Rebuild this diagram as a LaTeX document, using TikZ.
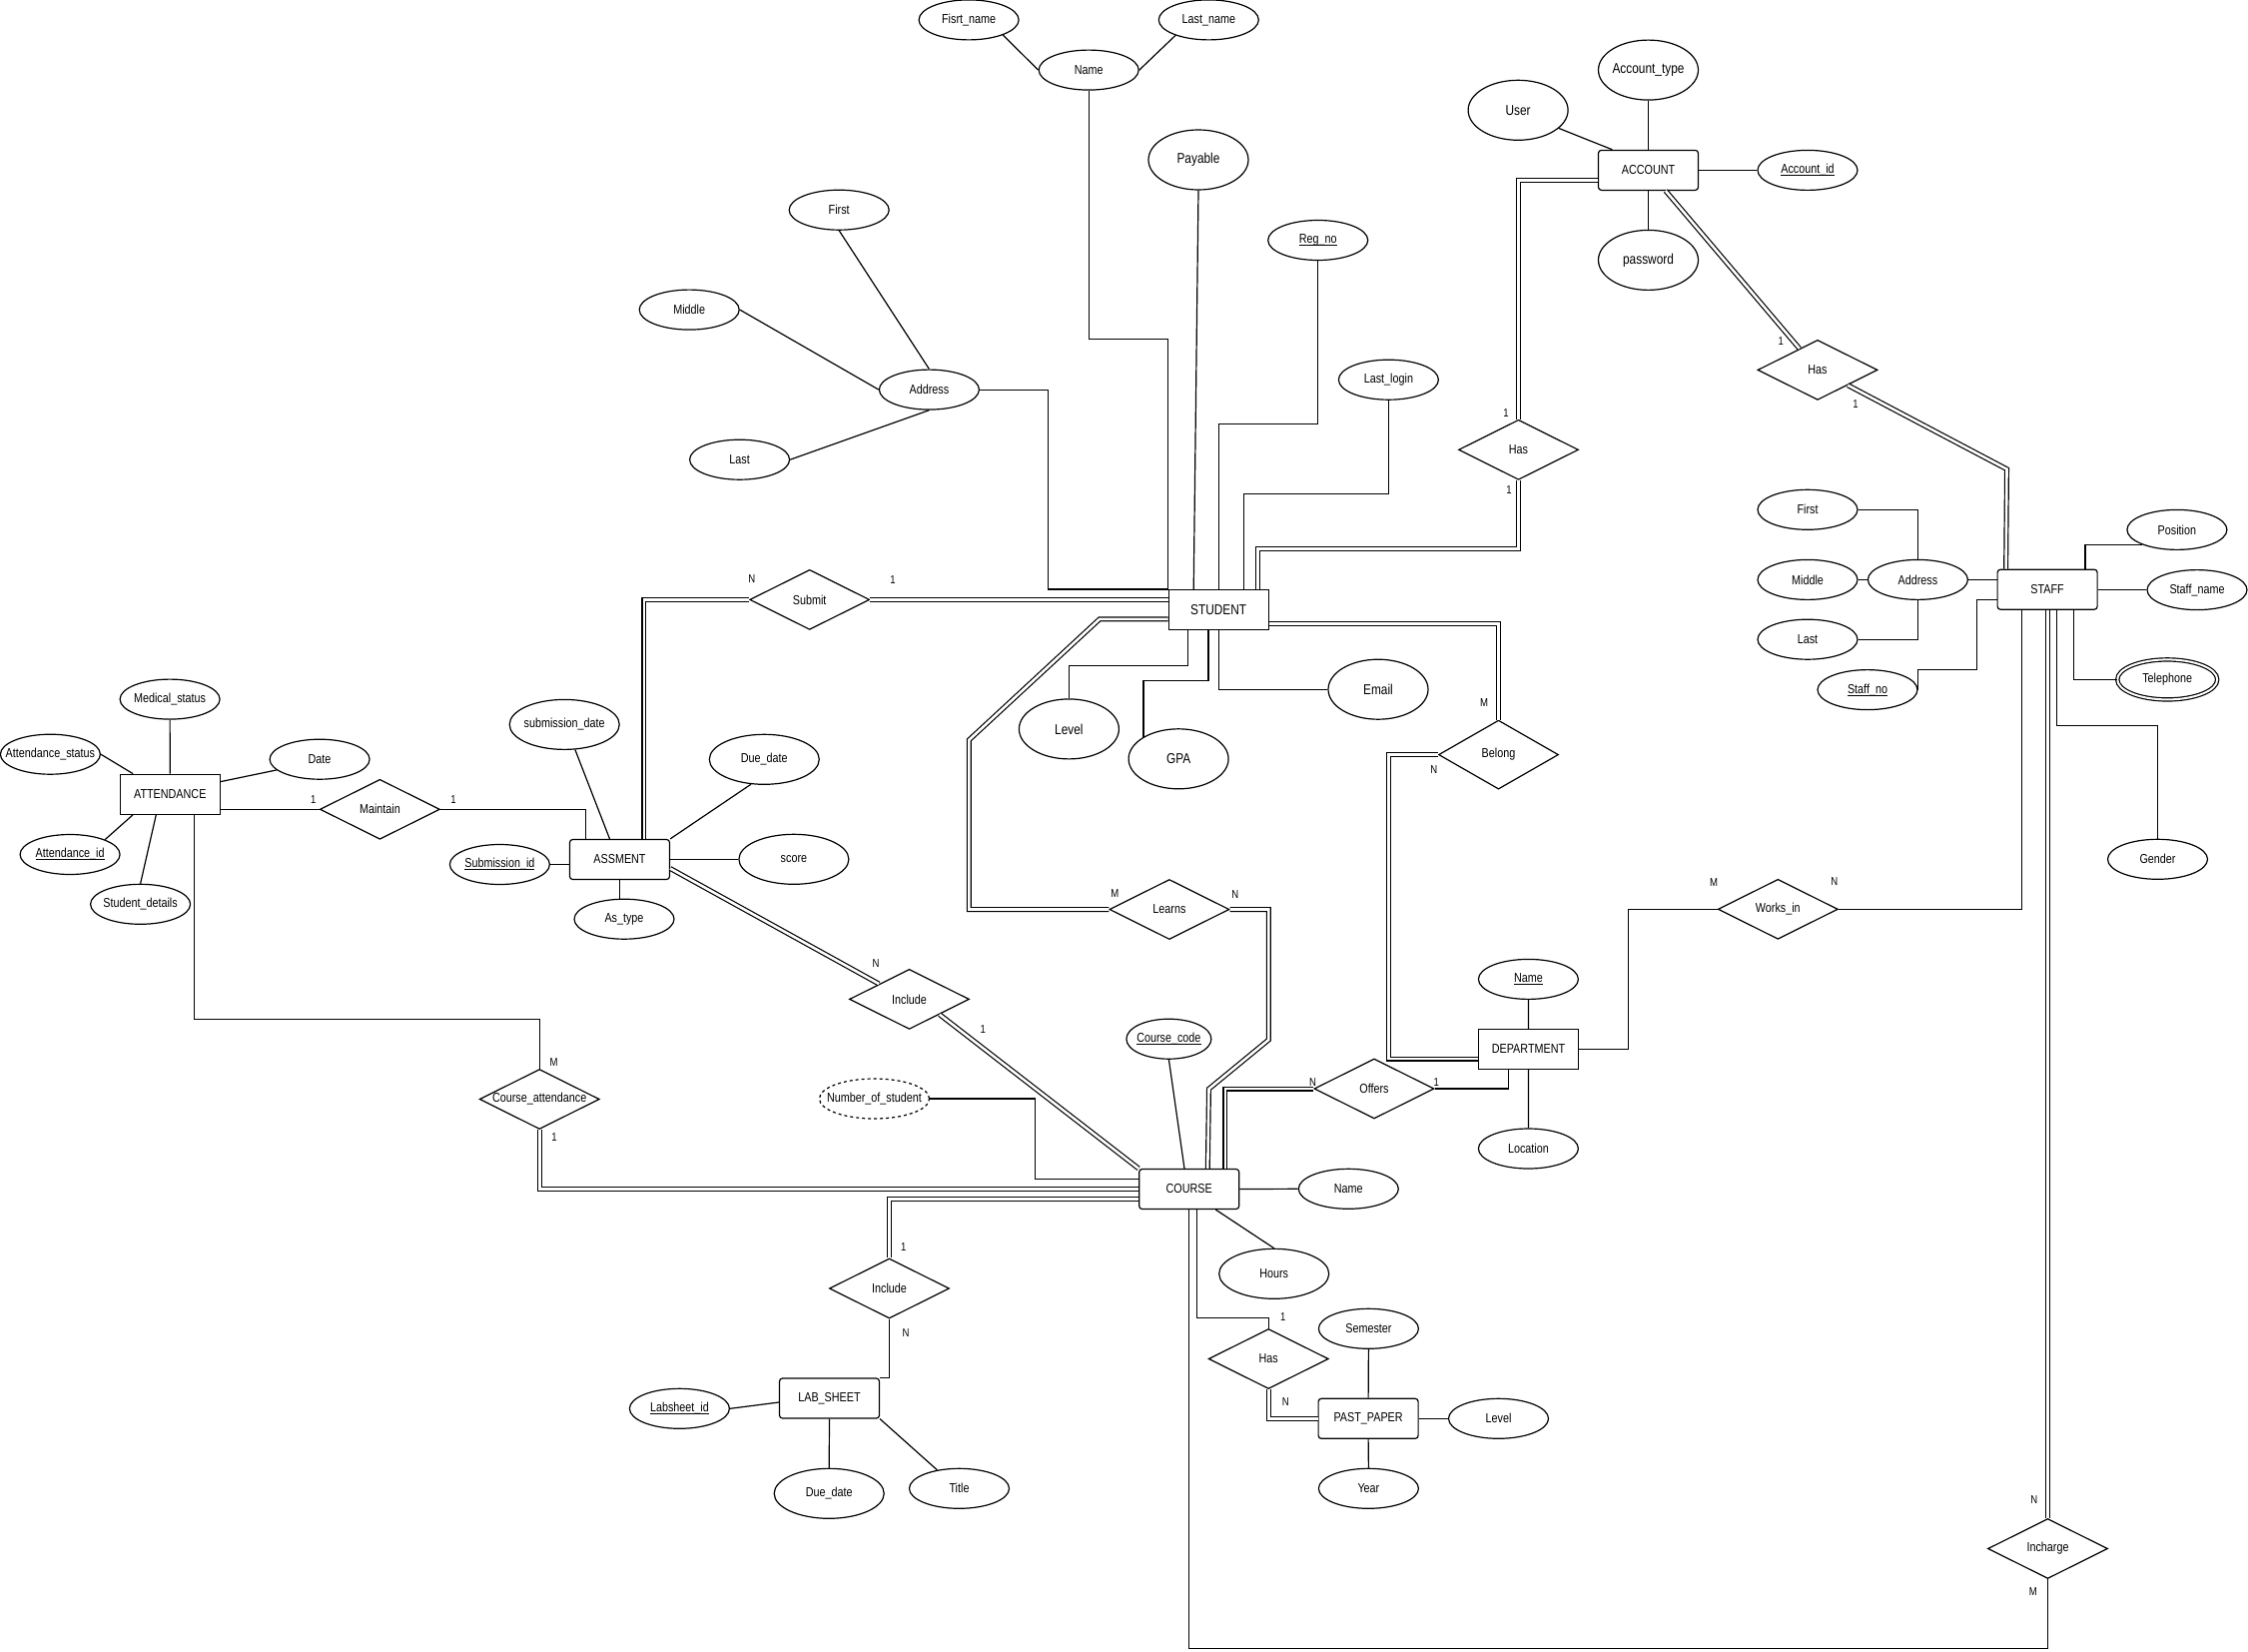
\documentclass[tikz,border=0pt]{standalone}
\usepackage{fontspec}
\setmainfont{Liberation Sans}[FakeStretch=0.83]
\usetikzlibrary{shapes.geometric,calc}
\newcommand{\zt}[1]{\makebox[0pt]{#1}}
\newcommand{\uln}[1]{\setbox0\hbox{#1}\rlap{\rule[-2.4pt]{\wd0}{0.9pt}}\box0}
\newcommand{\fsm}{\fontsize{13}{15}\selectfont}
\newcommand{\fbg}{\fontsize{14.3}{16}\selectfont}
\newcommand{\fcd}{\fontsize{11.5}{13}\selectfont}
\begin{document}
\begin{tikzpicture}[x=1pt,y=-1pt,line width=1.2pt,
  ent/.style={draw,rectangle,minimum width=100,minimum height=40,inner sep=0,font=\fsm},
  rent/.style={ent,rounded corners=3pt},
  attr/.style={draw,ellipse,minimum width=100,minimum height=40,inner sep=0,font=\fsm},
  bigattr/.style={attr,minimum height=60,font=\fbg},
  midattr/.style={attr,minimum width=110,minimum height=50},
  rel/.style={draw,diamond,minimum width=120,minimum height=60,inner sep=0,font=\fsm},
  card/.style={font=\fcd,inner sep=0},
  dbl/.style={double,double distance=2.6pt}]
\fill[white] (0,0) rectangle (2251,1654);
\useasboundingbox (0,0) rectangle (2251,1654);

% ---------- ATTENDANCE / ASSMENT ----------
\node[ent] (ATT) at (170.3,795.2) {\zt{ATTENDANCE}};
\node[attr] (MED) at (170.1,700.1) {\zt{Medical\_status}};
\node[attr] (AST) at (50.4,755.2) {\zt{Attendance\_status}};
\node[attr] (DATE) at (320.1,760.2) {\zt{Date}};
\node[attr] (AID) at (70.1,855.5) {\zt{\uln{Attendance\_id}}};
\node[attr] (SDET) at (140.6,905.3) {\zt{Student\_details}};
\node[rel] (MAIN) at (380.4,810.3) {\zt{Maintain}};
\node[rent] (ASM) at (620.5,860.5) {\zt{ASSMENT}};
\node[midattr] (SUBD) at (565.2,725.4) {\zt{submission\_date}};
\node[attr] (SUBID) at (500.4,865.5) {\zt{\uln{Submission\_id}}};
\node[attr] (AST2) at (625,920.2) {\zt{As\_type}};
\node[midattr] (DUE) at (765.3,760.3) {\zt{Due\_date}};
\node[midattr] (SCORE) at (794.9,860.3) {\zt{score}};
\node[rel] (CATT) at (540.2,1100.5) {\zt{Course\_attendance}};
\node[rel] (SUB) at (810.7,600.4) {\zt{Submit}};

% ---------- STUDENT ----------
\node[ent,font=\fbg] (STU) at (1220.2,610.5) {\zt{STUDENT}};
\node[attr] (NAME) at (1090.2,70.1) {\zt{Name}};
\node[attr] (FN) at (970.1,19.9) {\zt{Fisrt\_name}};
\node[attr] (LN) at (1210.3,19.9) {\zt{Last\_name}};
\node[bigattr] (PAY) at (1200,160) {\zt{Payable}};
\node[attr] (AF) at (840.2,210.2) {\zt{First}};
\node[attr] (AM) at (690.2,310.1) {\zt{Middle}};
\node[attr] (ADDR) at (930.4,390.1) {\zt{Address}};
\node[attr] (AL) at (740.6,460.2) {\zt{Last}};
\node[attr] (REG) at (1319.7,240.5) {\zt{\uln{Reg\_no}}};
\node[attr] (LL) at (1390.4,380.2) {\zt{Last\_login}};
\node[bigattr] (LEV) at (1070.4,729.9) {\zt{Level}};
\node[bigattr] (GPA) at (1180.1,759.8) {\zt{GPA}};
\node[bigattr] (EM) at (1380,690.2) {\zt{Email}};
\node[rel] (LRN) at (1170.9,910.5) {\zt{Learns}};
\node[rel] (INC1) at (910.5,1000.4) {\zt{Include}};

% ---------- COURSE ----------
\node[rent] (CRS) at (1190.7,1190.5) {\zt{COURSE}};
\node[attr,minimum width=85] (CC) at (1170.4,1040.2) {\zt{\uln{Course\_code}}};
\node[attr,minimum width=110,dashed] (NOS) at (875.5,1100) {\zt{Number\_of\_student}};
\node[attr] (CN) at (1350.3,1190.3) {\zt{Name}};
\node[midattr] (HRS) at (1275.7,1275.3) {\zt{Hours}};
\node[rel] (INC2) at (890.5,1290) {\zt{Include}};
\node[rent] (LAB) at (830.5,1400) {\zt{LAB\_SHEET}};
\node[attr] (LID) at (680.4,1410.3) {\zt{\uln{Labsheet\_id}}};
\node[midattr] (LDUE) at (830.2,1495.3) {\zt{Due\_date}};
\node[attr] (TTL) at (960.5,1490.3) {\zt{Title}};
\node[rel] (HAS3) at (1270.2,1360.5) {\zt{Has}};
\node[rent] (PP) at (1370.1,1420.3) {\zt{PAST\_PAPER}};
\node[attr] (SEM) at (1370.4,1330.3) {\zt{Semester}};
\node[attr] (YR) at (1370.4,1490.3) {\zt{Year}};
\node[attr] (PLEV) at (1500.5,1420.3) {\zt{Level}};

% ---------- DEPARTMENT ----------
\node[rel] (OFF) at (1376,1090) {\zt{Offers}};
\node[ent] (DEP) at (1530.5,1050.5) {\zt{DEPARTMENT}};
\node[attr] (DN) at (1530.4,980.4) {\zt{\uln{Name}}};
\node[attr] (LOC) at (1530.4,1150) {\zt{Location}};
\node[rel,minimum height=69] (BEL) at (1500.5,755.6) {\zt{Belong}};
\node[rel] (WRK) at (1780.3,910.3) {\zt{Works\_in}};

% ---------- STAFF ----------
\node[rent] (STF) at (2050.1,590.2) {\zt{STAFF}};
\node[attr] (SADDR) at (1920.4,580.4) {\zt{Address}};
\node[attr] (SF) at (1810,510.3) {\zt{First}};
\node[attr] (SM) at (1810,580.4) {\zt{Middle}};
\node[attr] (SL) at (1810,640.2) {\zt{Last}};
\node[attr] (SNO) at (1870,690.6) {\zt{\uln{Staff\_no}}};
\node[attr] (POS) at (2179.9,530.4) {\zt{Position}};
\node[attr] (SNAME) at (2200,590.6) {\zt{Staff\_name}};
\node[attr,double,double distance=2pt] (TEL) at (2170.2,680.4) {\zt{Telephone}};
\node[attr] (GEN) at (2160.5,860.3) {\zt{Gender}};
\node[rel] (INCH) at (2050.5,1550.5) {\zt{Incharge}};

% ---------- ACCOUNT ----------
\node[rent] (ACC) at (1650.5,170.4) {\zt{ACCOUNT}};
\node[bigattr] (ATYPE) at (1650.5,70.1) {\zt{Account\_type}};
\node[bigattr] (USR) at (1520.1,110.3) {\zt{User}};
\node[attr] (AIDC) at (1810,170.4) {\zt{\uln{Account\_id}}};
\node[bigattr] (PWD) at (1650.5,260.4) {\zt{password}};
\node[rel] (HAS1) at (1520.5,450.3) {\zt{Has}};
\node[rel] (HAS2) at (1820,370.4) {\zt{Has}};

% ---------- connectors: ATTENDANCE ----------
\draw (AST.east) -- ($(ATT.north west)+(13.4,0)$);
\draw (MED.south) -- (ATT.north);
\draw ($(ATT.north east)+(0,8)$) -- (DATE.194);
\draw ($(ATT.south west)+(13.4,0)$) -- (AID.23);
\draw ($(ATT.south west)+(36.6,0)$) -- (SDET.north);
\draw (ATT.east |- MAIN.west) -- (MAIN.west);
\draw (MAIN.east) -| ($(ASM.north west)+(16.6,0)$);
\draw ($(ATT.south west)+(75,0)$) -- ++(0,204.8) -| (CATT.north);
\draw[dbl] (CATT.south) |- (CRS.west);

% ---------- connectors: ASSMENT ----------
\draw (SUBD.-67) -- ($(ASM.north west)+(40.6,0)$);
\draw (SUBID.east) -- (SUBID.east -| ASM.west);
\draw (ASM.south) -- (ASM.south |- AST2.north);
\draw (DUE.-118) -- (ASM.north east);
\draw (ASM.east) -- (ASM.east -| SCORE.west);
\draw[dbl] (SUB.west) -| ($(ASM.north west)+(75,0)$);
\draw[dbl] (SUB.east) -- (SUB.east -| STU.west);
\draw[dbl] ($(ASM.east)+(0,9)$) -- ($(INC1.west)!0.5!(INC1.north)$);
\draw[dbl] ($(INC1.east)!0.5!(INC1.south)$) -- (CRS.north west);

% ---------- connectors: STUDENT ----------
\draw (FN.-24) -- (NAME.west);
\draw (LN.205) -- (NAME.east);
\draw (NAME.south) |- ($(STU.north west)+(0,-250.2)$) -- (STU.north west);
\draw (PAY.south) -- ($(STU.north west)+(25.6,0)$);
\draw (AF.south) -- (ADDR.north);
\draw (AM.east) -- (ADDR.west);
\draw (AL.east) -- (ADDR.south);
\draw (ADDR.east) -| ($(STU.north west)+(-120,0)$) -- (STU.north west);
\draw (REG.south) |- ($(STU.north)+(0,-165.2)$) -- (STU.north);
\draw (LL.south) |- ($(STU.north)+(25.3,-95.2)$) -- ($(STU.north)+(25.3,0)$);
\draw[dbl] (HAS1.south) |- ($(STU.north)+(39.3,-40.6)$) -- ($(STU.north)+(39.3,0)$);
\draw ($(STU.south west)+(19.9,0)$) -- ++(0,35.2) -| (LEV.north);
\draw ($(STU.south west)+(40.3,0)$) -- ++(0,50) -| (GPA.148);
\draw (STU.south) |- (EM.west);
\draw[dbl] ($(STU.west)+(0,9.4)$) -- (1101,619.9) -- (970.4,740.8) |- (LRN.west);
\draw[dbl] (LRN.east) -| (1270.4,1041) -- (1210.5,1090.2) -- ($(CRS.north west)+(69.2,0)$);
\draw[dbl] ($(STU.east)+(0,13.8)$) -| (BEL.north);

% ---------- connectors: COURSE ----------
\draw (CC.south) -- ($(CRS.north west)+(45.9,0)$);
\draw (NOS.east) -- (1036.2,1100) |- ($(CRS.west)+(0,-10)$);
\draw[dbl] ($(CRS.west)+(0,10)$) -| (INC2.north);
\draw (INC2.south) |- (LAB.north east);
\draw (LID.east) -- ($(LAB.west)+(0,4)$);
\draw (LAB.south) -- (LDUE.north);
\draw (LAB.south east) -- (TTL.140);
\draw (CRS.east) -- (CN.west);
\draw ($(CRS.south east)+(-24,0)$) -- (HRS.north);
\draw ($(CRS.south)+(7.5,0)$) |- ($(HAS3.north)+(0,-10.7)$) -- (HAS3.north);
\draw[dbl] (HAS3.south) |- (PP.west);
\draw (SEM.south) -- (PP.north);
\draw (PP.south) -- (YR.north);
\draw (PP.east) -- (PLEV.west);
\draw (CRS.south) -- ++(0,439.7) -| (INCH.south);
\draw[dbl] (INCH.north) -- (INCH.north |- STF.south);
\draw[dbl] ($(CRS.north west)+(86.7,0)$) |- (OFF.west);

% ---------- connectors: DEPARTMENT ----------
\draw (OFF.east) -| ($(DEP.south west)+(30.3,0)$);
\draw (DN.south) -- (DEP.north);
\draw (DEP.south) -- (LOC.north);
\draw[dbl] (BEL.west) -- (1390.6,755.6) |- ($(DEP.west)+(0,9.5)$);
\draw (WRK.west) -| (1630.5,1050.5) -- (DEP.east);
\draw (WRK.east) -| ($(STF.south west)+(24.9,0)$);

% ---------- connectors: STAFF ----------
\draw (SF.east) -| (SADDR.north);
\draw (SM.east) -- (SADDR.west);
\draw (SL.east) -| (SADDR.south);
\draw (SADDR.east) -- (SADDR.east -| STF.west);
\draw (SNO.east) -- ++(0,-20.5) -| ($(STF.west)+(-20,10.2)$) -- ($(STF.west)+(0,10.2)$);
\draw ($(STF.north east)+(-12.8,0)$) |- (POS.203);
\draw (STF.east) -- (STF.east -| SNAME.west);
\draw ($(STF.south east)+(-24.3,0)$) |- (TEL.west);
\draw ($(STF.south west)+(60.1,0)$) -- ++(0,115.6) -| (GEN.north);

% ---------- connectors: ACCOUNT ----------
\draw (ATYPE.south) -- (ACC.north);
\draw (USR.-24) -- ($(ACC.north west)+(14.5,0)$);
\draw (ACC.east) -- (AIDC.west);
\draw (ACC.south) -- (PWD.north);
\draw[dbl] ($(ACC.west)+(0,10)$) -| (HAS1.north);
\draw[dbl] ($(ACC.south east)+(-33.3,0)$) -- ($(HAS2.west)!0.7!(HAS2.north)$);
\draw[dbl] ($(HAS2.east)!0.5!(HAS2.south)$) -- (2009.5,469.7) -- ($(STF.north west)+(9.1,0)$);

% ---------- cardinalities ----------
\node[card] (k1) at (313.8,800.4) {1};
\node[card] (k2) at (454,800.4) {1};
\node[card] (k3) at (554.5,1063.3) {M};
\node[card] (k4) at (554.9,1138.7) {1};
\node[card] (k5) at (752.7,579.5) {N};
\node[card] (k6) at (894,580.4) {1};
\node[card] (k7) at (877,964.3) {N};
\node[card] (k8) at (984.2,1030.4) {1};
\node[card] (k9) at (1116.3,894.2) {M};
\node[card] (k10) at (1236.7,896) {N};
\node[card] (k11) at (904.8,1248.3) {1};
\node[card] (k12) at (907.1,1334.3) {N};
\node[card] (k13) at (1284.8,1318.3) {1};
\node[card] (k14) at (1287.2,1403.3) {N};
\node[card] (k15) at (1314.6,1084) {N};
\node[card] (k16) at (1438.3,1084) {1};
\node[card] (k17) at (1486.2,704) {M};
\node[card] (k18) at (1435.8,770.5) {N};
\node[card] (k19) at (1716,883.9) {M};
\node[card] (k20) at (1836.7,883) {N};
\node[card] (k21) at (1508,413.4) {1};
\node[card] (k22) at (1511,490.5) {1};
\node[card] (k23) at (1783.3,341.2) {1};
\node[card] (k24) at (1857.9,404.2) {1};
\node[card] (k25) at (2036.7,1501.7) {N};
\node[card] (k26) at (2035.7,1594) {M};
\end{tikzpicture}
\end{document}
